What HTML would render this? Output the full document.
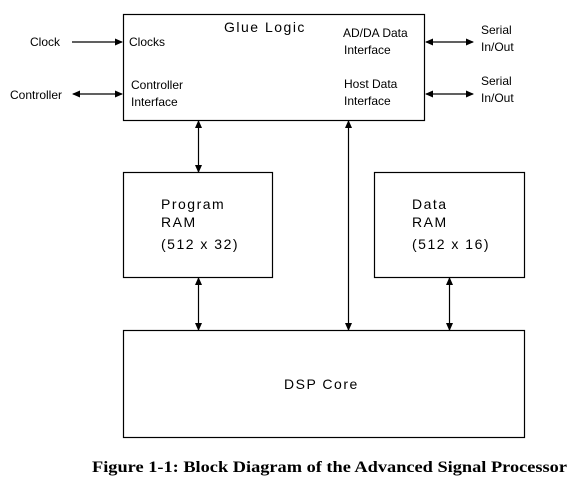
<!DOCTYPE html>
<html><head><style>
body{margin:0;background:#fff}
</style></head><body>
<svg width="585" height="492" xmlns="http://www.w3.org/2000/svg" font-family="Liberation Sans, sans-serif">
<defs>
<marker id="a" markerWidth="8" markerHeight="8" refX="7" refY="4" orient="auto-start-reverse" markerUnits="userSpaceOnUse">
<path d="M0,0.5 L8,4 L0,7.5 Z" fill="#000"/></marker>
</defs>
<g fill="none" stroke="#000" stroke-width="1.2">
<rect x="123.5" y="14.5" width="301" height="106"/>
<rect x="123.5" y="172.5" width="149" height="105"/>
<rect x="374.5" y="172.5" width="150" height="105"/>
<rect x="123.5" y="330.5" width="401" height="107"/>
</g>
<g stroke="#000" stroke-width="1.2">
<line x1="72" y1="42" x2="122" y2="42" marker-end="url(#a)"/>
<line x1="73" y1="94" x2="122" y2="94" marker-start="url(#a)" marker-end="url(#a)"/>
<line x1="426" y1="42" x2="473" y2="42" marker-start="url(#a)" marker-end="url(#a)"/>
<line x1="426" y1="94" x2="473" y2="94" marker-start="url(#a)" marker-end="url(#a)"/>
<line x1="198.5" y1="121" x2="198.5" y2="172" marker-start="url(#a)" marker-end="url(#a)"/>
<line x1="348.5" y1="121" x2="348.5" y2="330" marker-start="url(#a)" marker-end="url(#a)"/>
<line x1="198.5" y1="278" x2="198.5" y2="330" marker-start="url(#a)" marker-end="url(#a)"/>
<line x1="449.5" y1="278" x2="449.5" y2="330" marker-start="url(#a)" marker-end="url(#a)"/>
</g>
<g font-size="12">
<text x="30" y="46">Clock</text>
<text x="10" y="99">Controller</text>
<text x="129" y="46">Clocks</text>
<text x="131" y="89">Controller</text>
<text x="131" y="106">Interface</text>
<text x="343" y="37">AD/DA Data</text>
<text x="344" y="54">Interface</text>
<text x="344" y="88">Host Data</text>
<text x="344" y="105">Interface</text>
<text x="481" y="34">Serial</text>
<text x="481" y="51">In/Out</text>
<text x="481" y="85">Serial</text>
<text x="481" y="102">In/Out</text>
</g>
<g font-size="14" letter-spacing="1.5">
<text x="224" y="32">Glue Logic</text>
<text x="161" y="209">Program</text>
<text x="161" y="227">RAM</text>
<text x="161" y="249">(512 x 32)</text>
<text x="412" y="209">Data</text>
<text x="412" y="227">RAM</text>
<text x="412" y="249">(512 x 16)</text>
<text x="284" y="389">DSP Core</text>
</g>
<text x="92" y="472" textLength="475" lengthAdjust="spacingAndGlyphs" style="font-family:'Liberation Serif',serif;font-weight:bold;font-size:16px">Figure 1-1: Block Diagram of the Advanced Signal Processor</text>
</svg>
</body></html>
